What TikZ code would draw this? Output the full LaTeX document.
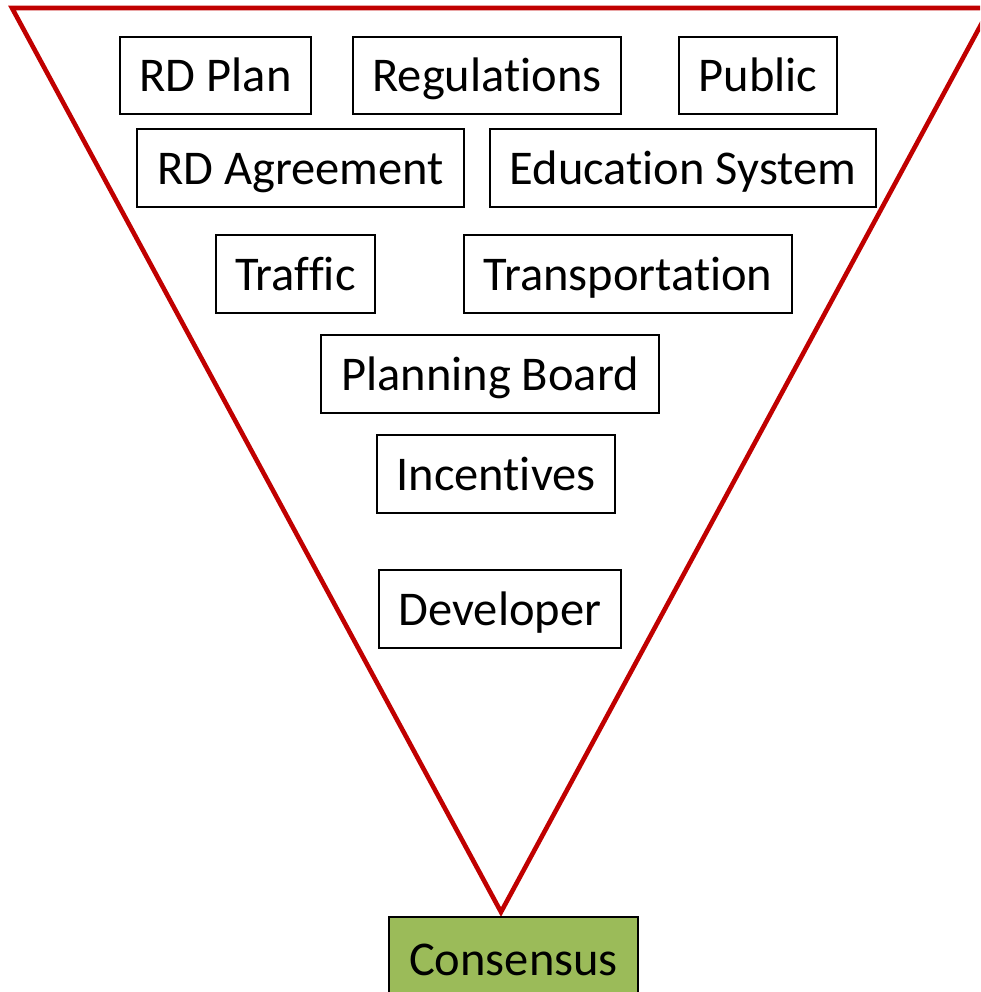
\documentclass[tikz,border=0pt]{standalone}
\usepackage{fontspec}
\setmainfont{Carlito}[Ligatures={NoCommon,NoContextual},Contextuals=NoAlternate]
\definecolor{trired}{HTML}{C00000}
\definecolor{consgreen}{HTML}{9BBB59}
\begin{document}
\begin{tikzpicture}[x=1pt,y=-1pt,
  box/.style={draw=black, line width=1.3pt, fill=white, inner sep=0pt, text=black,
    text height=45pt, text depth=12pt,
    font=\fontsize{48.5}{56}\selectfont},
  funnel/.style={draw=trired, line width=4.6pt, line join=miter}]
\useasboundingbox (0,0) rectangle (980,992);
\begin{scope}
\clip (0,0) rectangle (980,992);
\coordinate (tl) at (12,8);
\coordinate (tr) at (990,8);
\coordinate (ap) at (501,912);
\draw[funnel] (tl) -- (tr) -- (ap) -- cycle;
\node[box, fill=consgreen, minimum width=249, minimum height=84] (cons) at (513.5,959) {Consensus};
\end{scope}
\node[box, minimum width=191, minimum height=77] (rdplan) at (215.5,75.5) {RD Plan};
\node[box, minimum width=268, minimum height=77] (regs) at (487,75.5) {Regulations};
\node[box, minimum width=158, minimum height=77] (public) at (758,75.5) {Public};
\node[box, minimum width=327, minimum height=78] (rdagr) at (300.5,168) {RD Agreement};
\node[box, minimum width=386, minimum height=78] (edu) at (683,168) {Education System};
\node[box, minimum width=159, minimum height=78] (traffic) at (295.5,274) {Traffic};
\node[box, minimum width=328, minimum height=78] (transp) at (628,274) {Transportation};
\node[box, minimum width=338, minimum height=78] (board) at (490,374) {Planning Board};
\node[box, minimum width=238, minimum height=78] (incent) at (496,474) {Incentives};
\node[box, minimum width=242, minimum height=78] (dev) at (500,609) {Developer};
\end{tikzpicture}
\end{document}
